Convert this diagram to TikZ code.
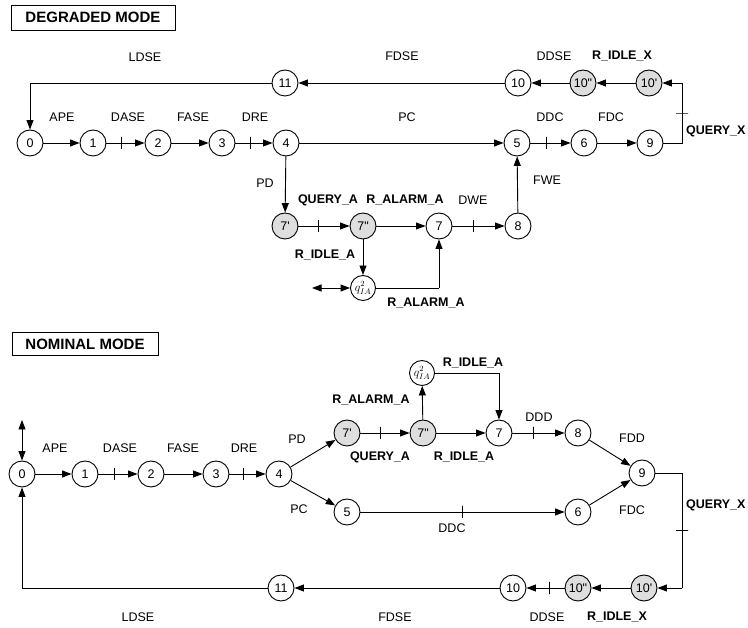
\documentclass[tikz,border=0pt]{standalone}
\usepackage{fontspec}
\setmainfont{Liberation Sans}
\usetikzlibrary{arrows.meta}
\begin{document}
\begin{tikzpicture}[x=1pt,y=-1pt,
  st/.style={circle,draw,line width=0.9pt,minimum size=26pt,inner sep=0pt,font=\fontsize{12.5}{14}\selectfont},
  gst/.style={st,fill=black!13},
  qst/.style={circle,draw,line width=0.9pt,minimum size=25pt,inner sep=0pt,font=\fontsize{12}{14}\selectfont},
  lab/.style={inner sep=0pt,font=\fontsize{12.5}{14}\selectfont},
  blab/.style={inner sep=0pt,font=\fontsize{12.5}{14}\selectfont\bfseries},
  ttl/.style={draw,line width=0.9pt,inner sep=0pt,font=\fontsize{15}{17}\selectfont\bfseries},
  arr/.style={line width=0.9pt,-{Triangle[length=9.5pt,width=7pt]}},
  ln/.style={line width=0.9pt},
  darr/.style={line width=0.9pt,{Triangle[length=9.5pt,width=7pt]}-{Triangle[length=9.5pt,width=7pt]}},
  vtick/.style={draw,line width=0.9pt,inner sep=0pt,minimum width=0pt,minimum height=12pt},
  htick/.style={draw,line width=0.9pt,inner sep=0pt,minimum height=0pt,minimum width=12pt}]
\useasboundingbox (0,0) rectangle (748,628);
\newcommand{\sq}{\textquotesingle}
\newcommand{\dq}{\textquotedbl}
\newcommand{\qIA}{\(q^{2}_{IA}\)}
% ================= DEGRADED MODE =================
\node[ttl,minimum width=164pt,minimum height=25pt] (dtitle) at (93,17.5) {DEGRADED MODE};
\node[st] (d0) at (30,143) {0};
\node[st] (d1) at (93,143) {1};
\node[st] (d2) at (158,143) {2};
\node[st] (d3) at (222,143) {3};
\node[st] (d4) at (286,143) {4};
\node[st] (d5) at (517,143) {5};
\node[st] (d6) at (584,143) {6};
\node[st] (d9) at (650,143) {9};
\node[st] (d11) at (285,83) {11};
\node[st] (d10) at (518,83) {10};
\node[gst] (d10b) at (583,83) {10\dq};
\node[gst] (d10a) at (649,83) {10\sq};
\node[gst] (d7a) at (285,226) {7\sq};
\node[gst] (d7b) at (363,226) {7\dq};
\node[st] (d7) at (439,226) {7};
\node[st] (d8) at (518,226) {8};
\node[qst] (dq) at (363,288) {\qIA};
\coordinate (dc1) at (682,143);
\coordinate (dc2) at (682,83);
\coordinate (dc3) at (30,83);
\coordinate (dc4) at (439,288);
\coordinate (dc5) at (312,288);
\draw[arr] (d0) -- (d1);
\draw[arr] (d1) -- node[vtick,pos=0.4]{} (d2);
\draw[arr] (d2) -- (d3);
\draw[arr] (d3) -- node[vtick,pos=0.4]{} (d4);
\draw[arr] (d4) -- (d5);
\draw[arr] (d5) -- node[vtick,pos=0.4]{} (d6);
\draw[arr] (d6) -- (d9);
\draw[ln] (d9) -- (dc1) -- node[htick]{} (dc2);
\draw[arr] (dc2) -- (d10a);
\draw[arr] (d10a) -- (d10b);
\draw[arr] (d10b) -- (d10);
\draw[arr] (d10) -- (d11);
\draw[ln] (d11) -- (dc3);
\draw[arr] (dc3) -- (d0);
\draw[arr] (d4) -- (d7a);
\draw[arr] (d7a) -- node[vtick,pos=0.4]{} (d7b);
\draw[arr] (d7b) -- (d7);
\draw[arr] (d7) -- node[vtick,pos=0.4]{} (d8);
\draw[arr] (d8) -- (d5);
\draw[arr] (d7b) -- (dq);
\draw[ln] (dq) -- (dc4);
\draw[arr] (dc4) -- (d7);
\draw[darr] (dc5) -- (dq);
% labels
\node[lab] (lLDSEd) at (145,57) {LDSE};
\node[lab] (lFDSEd) at (402,56) {FDSE};
\node[lab] (lDDSEd) at (554,56) {DDSE};
\node[blab] (lRIXd) at (622,56) {R\_IDLE\_X};
\node[lab] (lAPEd) at (62,117) {APE};
\node[lab] (lDASEd) at (128,117) {DASE};
\node[lab] (lFASEd) at (193,117) {FASE};
\node[lab] (lDREd) at (255,117) {DRE};
\node[lab] (lPCd) at (407,117) {PC};
\node[lab] (lDDCd) at (550,117) {DDC};
\node[lab] (lFDCd) at (611,117) {FDC};
\node[blab,anchor=west] (lQXd) at (686,131) {QUERY\_X};
\node[lab] (lPDd) at (265,183) {PD};
\node[lab] (lFWEd) at (547,180) {FWE};
\node[blab] (lQAd) at (328,200) {QUERY\_A};
\node[blab] (lRAd) at (405,200) {R\_ALARM\_A};
\node[lab] (lDWEd) at (473,200) {DWE};
\node[blab] (lRIAd) at (325,255) {R\_IDLE\_A};
\node[blab] (lRA2d) at (426,303) {R\_ALARM\_A};
% ================= NOMINAL MODE =================
\node[ttl,minimum width=146pt,minimum height=23pt] (ntitle) at (85,344) {NOMINAL MODE};
\node[st] (n0) at (22,474) {0};
\node[st] (n1) at (85,474) {1};
\node[st] (n2) at (151,474) {2};
\node[st] (n3) at (216,474) {3};
\node[st] (n4) at (279,474) {4};
\node[gst] (n7a) at (347,433) {7\sq};
\node[gst] (n7b) at (423,433) {7\dq};
\node[st] (n7) at (499,433) {7};
\node[st] (n8) at (578,433) {8};
\node[st] (n9) at (642,473) {9};
\node[st] (n5) at (347,512) {5};
\node[st] (n6) at (578,512) {6};
\node[qst] (nq) at (422,373) {\qIA};
\node[st] (n11) at (281,588) {11};
\node[st] (n10) at (513,588) {10};
\node[gst] (n10b) at (578,588) {10\dq};
\node[gst] (n10a) at (644,588) {10\sq};
\coordinate (nc0) at (22,420);
\coordinate (nc1) at (499,373);
\coordinate (nc2) at (682,473);
\coordinate (nc3) at (682,588);
\coordinate (nc4) at (22,588);
\draw[darr] (nc0) -- (n0);
\draw[arr] (n0) -- (n1);
\draw[arr] (n1) -- node[vtick,pos=0.4]{} (n2);
\draw[arr] (n2) -- (n3);
\draw[arr] (n3) -- node[vtick,pos=0.4]{} (n4);
\draw[arr] (n4) -- (n7a);
\draw[arr] (n4) -- (n5);
\draw[arr] (n7a) -- node[vtick,pos=0.4]{} (n7b);
\draw[arr] (n7b) -- (n7);
\draw[arr] (n7) -- node[vtick,pos=0.4]{} (n8);
\draw[arr] (n8) -- (n9);
\draw[arr] (n5) -- node[vtick,pos=0.5]{} (n6);
\draw[arr] (n6) -- (n9);
\draw[arr] (n7b) -- (nq);
\draw[ln] (nq) -- (nc1);
\draw[arr] (nc1) -- (n7);
\draw[ln] (n9) -- (nc2) -- node[htick,pos=0.5]{} (nc3);
\draw[arr] (nc3) -- (n10a);
\draw[arr] (n10a) -- (n10b);
\draw[arr] (n10b) -- node[vtick,pos=0.4]{} (n10);
\draw[arr] (n10) -- (n11);
\draw[ln] (n11) -- (nc4);
\draw[arr] (nc4) -- (n0);
% labels
\node[lab] (lAPEn) at (55,448) {APE};
\node[lab] (lDASEn) at (120,448) {DASE};
\node[lab] (lFASEn) at (183,448) {FASE};
\node[lab] (lDREn) at (244,448) {DRE};
\node[lab] (lPDn) at (297,439) {PD};
\node[lab] (lPCn) at (299,509) {PC};
\node[blab] (lRAn) at (371,400) {R\_ALARM\_A};
\node[blab] (lQAn) at (380,457) {QUERY\_A};
\node[blab] (lRIAn) at (464,457) {R\_IDLE\_A};
\node[blab] (lRIA2n) at (473,363) {R\_IDLE\_A};
\node[lab] (lDDDn) at (539,417) {DDD};
\node[lab] (lFDDn) at (632,438) {FDD};
\node[lab] (lFDCn) at (632,510) {FDC};
\node[lab] (lDDCn) at (452,528) {DDC};
\node[blab,anchor=west] (lQXn) at (686,505) {QUERY\_X};
\node[lab] (lLDSEn) at (138,617) {LDSE};
\node[lab] (lFDSEn) at (395,617) {FDSE};
\node[lab] (lDDSEn) at (547,617) {DDSE};
\node[blab] (lRIXn) at (617,617) {R\_IDLE\_X};
\end{tikzpicture}
\end{document}
